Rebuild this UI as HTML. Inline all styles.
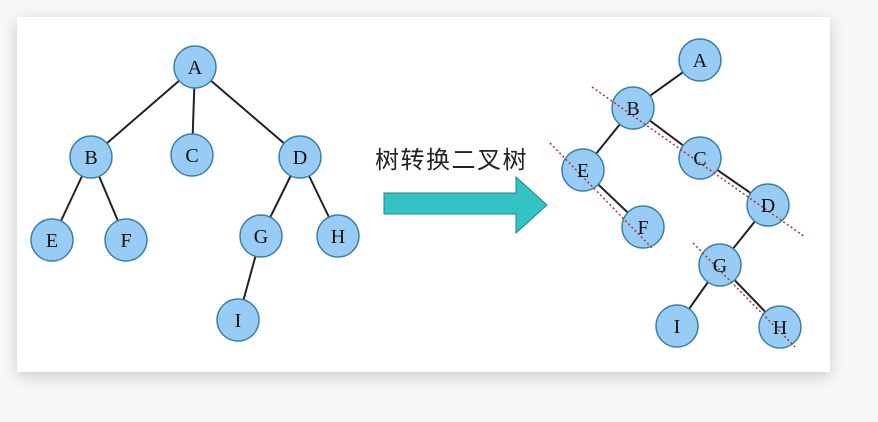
<!DOCTYPE html>
<html><head><meta charset="utf-8"><style>
html,body{margin:0;padding:0;background:#f7f7f7;}
.card{position:absolute;left:17px;top:17px;width:813px;height:355px;background:#fff;box-shadow:0 4px 14px rgba(0,0,0,0.18);}
svg{position:absolute;left:0;top:0;}
</style></head><body>
<div class="card"></div>
<svg width="878" height="422" xmlns="http://www.w3.org/2000/svg">
<g stroke="#222" stroke-width="2">
<line x1="195" y1="67" x2="91" y2="157"/><line x1="195" y1="67" x2="192" y2="155"/><line x1="195" y1="67" x2="300" y2="157"/>
<line x1="91" y1="157" x2="52" y2="240"/><line x1="91" y1="157" x2="126" y2="240"/>
<line x1="300" y1="157" x2="261" y2="236"/><line x1="300" y1="157" x2="338" y2="236"/>
<line x1="261" y1="236" x2="238" y2="320"/>
<line x1="700" y1="60" x2="633" y2="108"/><line x1="633" y1="108" x2="583" y2="170"/>
<line x1="633" y1="108" x2="700" y2="158"/><line x1="700" y1="158" x2="768" y2="205"/>
<line x1="583" y1="170" x2="643" y2="227"/><line x1="768" y1="205" x2="720" y2="265"/>
<line x1="720" y1="265" x2="677" y2="326"/><line x1="720" y1="265" x2="780" y2="327"/>
</g>
<g fill="#99ccf5" stroke="#3a7fa8" stroke-width="1.5">
<circle cx="195" cy="67" r="21"/><circle cx="91" cy="157" r="21"/><circle cx="192" cy="155" r="21"/><circle cx="300" cy="157" r="21"/>
<circle cx="52" cy="240" r="21"/><circle cx="126" cy="240" r="21"/><circle cx="261" cy="236" r="21"/><circle cx="338" cy="236" r="21"/><circle cx="238" cy="320" r="21"/>
<circle cx="700" cy="60" r="21"/><circle cx="633" cy="108" r="21"/><circle cx="700" cy="158" r="21"/><circle cx="768" cy="205" r="21"/>
<circle cx="583" cy="170" r="21"/><circle cx="643" cy="227" r="21"/><circle cx="720" cy="265" r="21"/><circle cx="780" cy="327" r="21"/><circle cx="677" cy="326" r="21"/>
</g>
<g stroke="#b03040" stroke-width="1.5" stroke-dasharray="2,2.5">
<line x1="592" y1="87" x2="805" y2="237"/><line x1="550" y1="143" x2="652" y2="248"/><line x1="693" y1="243" x2="795" y2="347"/>
</g>
<g font-family="Liberation Serif, serif" font-size="20" fill="#111" text-anchor="middle">
<text x="195" y="74">A</text><text x="91" y="164">B</text><text x="192" y="162">C</text><text x="300" y="164">D</text>
<text x="52" y="247">E</text><text x="126" y="247">F</text><text x="261" y="243">G</text><text x="338" y="243">H</text><text x="238" y="327">I</text>
<text x="700" y="67">A</text><text x="633" y="115">B</text><text x="700" y="165">C</text><text x="768" y="212">D</text>
<text x="583" y="177">E</text><text x="643" y="234">F</text><text x="720" y="272">G</text><text x="780" y="334">H</text><text x="677" y="333">I</text>
</g>
<text x="375" y="168" font-family="Liberation Sans, Noto Sans CJK SC, sans-serif" font-size="24" letter-spacing="1.5" fill="#222">树转换二叉树</text>
<polygon points="384,193 516,193 516,177 547,205 516,233 516,214 384,214" fill="#33c3c3" stroke="#1a8a8a" stroke-width="1"/>
</svg>
</body></html>
